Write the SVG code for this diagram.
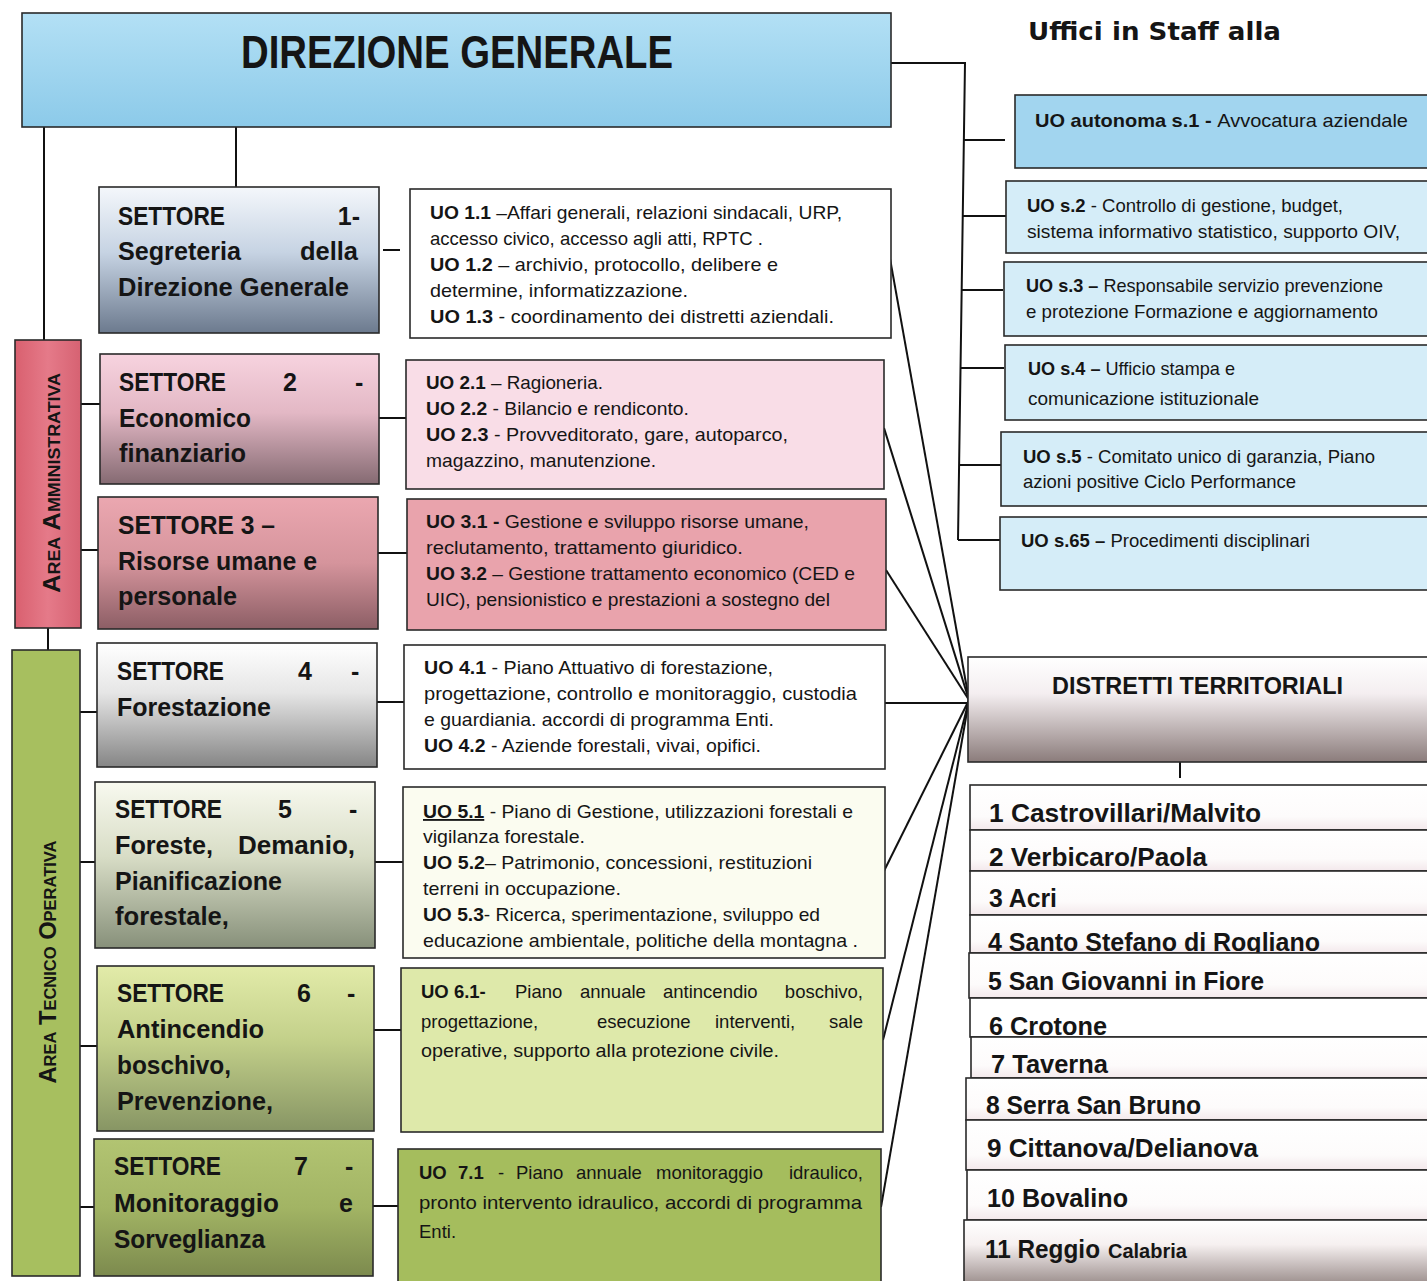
<svg xmlns="http://www.w3.org/2000/svg" width="1427" height="1281" viewBox="0 0 1427 1281">
<defs>
<style>
.bx{stroke:#2a2a2a;stroke-width:1.6}
.ln{stroke:#111;stroke-width:2;fill:none}
text{font-family:'Liberation Sans',Arial,sans-serif;fill:#151515}
.uo{font-size:18.5px}
.se{font-size:25px;font-weight:bold}
.ds{font-size:25px;font-weight:bold}
.b{font-weight:bold}
.area{font-size:23px;font-weight:bold;font-variant:small-caps}
</style>
<linearGradient id="gDG" x1="0" y1="0" x2="0" y2="1"><stop offset="0" stop-color="#b3e0f5"/><stop offset="1" stop-color="#8ccae9"/></linearGradient>
<linearGradient id="gS1" x1="0" y1="0" x2="0" y2="1"><stop offset="0" stop-color="#f4f7fb"/><stop offset="0.45" stop-color="#c6d3e3"/><stop offset="1" stop-color="#6c7a8e"/></linearGradient>
<linearGradient id="gS2" x1="0" y1="0" x2="0" y2="1"><stop offset="0" stop-color="#f7d3df"/><stop offset="0.45" stop-color="#e3b8c5"/><stop offset="1" stop-color="#856a72"/></linearGradient>
<linearGradient id="gS3" x1="0" y1="0" x2="0" y2="1"><stop offset="0" stop-color="#eba7b0"/><stop offset="0.5" stop-color="#d5949c"/><stop offset="1" stop-color="#8c5e65"/></linearGradient>
<linearGradient id="gS4" x1="0" y1="0" x2="0" y2="1"><stop offset="0" stop-color="#ffffff"/><stop offset="0.4" stop-color="#e6e6e6"/><stop offset="1" stop-color="#858585"/></linearGradient>
<linearGradient id="gS5" x1="0" y1="0" x2="0" y2="1"><stop offset="0" stop-color="#f8f9ef"/><stop offset="0.45" stop-color="#d8ddc6"/><stop offset="1" stop-color="#87907a"/></linearGradient>
<linearGradient id="gS6" x1="0" y1="0" x2="0" y2="1"><stop offset="0" stop-color="#e2eba9"/><stop offset="0.45" stop-color="#c3d08a"/><stop offset="1" stop-color="#879564"/></linearGradient>
<linearGradient id="gS7" x1="0" y1="0" x2="0" y2="1"><stop offset="0" stop-color="#b2c472"/><stop offset="0.5" stop-color="#a2b464"/><stop offset="1" stop-color="#7c8a4e"/></linearGradient>
<linearGradient id="gDT" x1="0" y1="0" x2="0" y2="1"><stop offset="0" stop-color="#ffffff"/><stop offset="0.35" stop-color="#f4eef0"/><stop offset="1" stop-color="#8b7c7b"/></linearGradient>
<linearGradient id="gRow" x1="0" y1="0" x2="0" y2="1"><stop offset="0" stop-color="#ffffff"/><stop offset="0.7" stop-color="#fdfbfb"/><stop offset="1" stop-color="#f3e8eb"/></linearGradient>
<linearGradient id="gR11" x1="0" y1="0" x2="0" y2="1"><stop offset="0" stop-color="#ffffff"/><stop offset="0.35" stop-color="#f6f0f0"/><stop offset="1" stop-color="#8e807e"/></linearGradient>
<linearGradient id="gAA" x1="0" y1="0" x2="1" y2="0"><stop offset="0" stop-color="#d9606f"/><stop offset="0.5" stop-color="#e57a89"/><stop offset="1" stop-color="#d66272"/></linearGradient>
<clipPath id="c5"><rect x="403" y="787" width="482" height="170"/></clipPath>
</defs>
<rect width="1427" height="1281" fill="#ffffff"/>

<g id="connectors">
<path class="ln" d="M44 127V340"/>
<path class="ln" d="M236 127V187"/>
<path class="ln" d="M891 63H965L958 540"/>
<path class="ln" d="M964 140H1005"/>
<path class="ln" d="M963 216H1006"/>
<path class="ln" d="M962 290H1003"/>
<path class="ln" d="M961 368H1004"/>
<path class="ln" d="M959 465H1001"/>
<path class="ln" d="M958 540H1000"/>
<path class="ln" d="M48 628V650"/>
<path class="ln" d="M81 404H100"/>
<path class="ln" d="M80 550H98"/>
<path class="ln" d="M80 712H97"/>
<path class="ln" d="M80 862H95"/>
<path class="ln" d="M78 1046H97"/>
<path class="ln" d="M77 1207H94"/>
<path class="ln" d="M383 250H400"/>
<path class="ln" d="M379 418H406"/>
<path class="ln" d="M378 553H407"/>
<path class="ln" d="M377 702H404"/>
<path class="ln" d="M375 862H403"/>
<path class="ln" d="M374 1030H401"/>
<path class="ln" d="M373 1206H398"/>
<path class="ln" d="M889 253L969 700"/>
<path class="ln" d="M884 428L969 700"/>
<path class="ln" d="M886 570L969 700"/>
<path class="ln" d="M885 703H969"/>
<path class="ln" d="M883 873L969 700"/>
<path class="ln" d="M883 1040L969 700"/>
<path class="ln" d="M881 1207L969 700"/>
<path class="ln" d="M1180 762V778"/>
</g>

<g id="direzione-generale">
<rect class="bx" x="22" y="13" width="869" height="114" fill="url(#gDG)"/>
<text x="241" y="68" font-size="46" font-weight="bold" textLength="432" lengthAdjust="spacingAndGlyphs">DIREZIONE GENERALE</text>
</g>

<g id="staff-title">
<text x="1028" y="40" font-size="25" font-weight="bold" textLength="253" lengthAdjust="spacingAndGlyphs" style="font-family:'DejaVu Sans',sans-serif">Uffici in Staff alla</text>
</g>

<g id="staff-s1">
<rect class="bx" x="1015" y="95" width="420" height="73" fill="#a2d5ef"/>
<text class="uo" x="1035" y="127" textLength="373" lengthAdjust="spacingAndGlyphs"><tspan class="b">UO autonoma s.1 - </tspan> Avvocatura aziendale</text>
</g>
<g id="staff-s2">
<rect class="bx" x="1006" y="181" width="430" height="72" fill="#d5edf8"/>
<text class="uo" x="1027" y="212" textLength="316" lengthAdjust="spacingAndGlyphs"><tspan class="b">UO s.2</tspan> - Controllo di gestione, budget,</text>
<text class="uo" x="1027" y="238" textLength="373" lengthAdjust="spacingAndGlyphs">sistema informativo statistico,  supporto OIV,</text>
</g>
<g id="staff-s3">
<rect class="bx" x="1004" y="262" width="432" height="74" fill="#d5edf8"/>
<text class="uo" x="1026" y="292" textLength="357" lengthAdjust="spacingAndGlyphs"><tspan class="b">UO s.3 –</tspan> Responsabile servizio prevenzione</text>
<text class="uo" x="1026" y="318" textLength="352" lengthAdjust="spacingAndGlyphs">e protezione Formazione e aggiornamento</text>
</g>
<g id="staff-s4">
<rect class="bx" x="1005" y="345" width="431" height="75" fill="#d5edf8"/>
<text class="uo" x="1028" y="375" textLength="207" lengthAdjust="spacingAndGlyphs"><tspan class="b">UO s.4 –</tspan> Ufficio stampa e</text>
<text class="uo" x="1028" y="405" textLength="231" lengthAdjust="spacingAndGlyphs">comunicazione  istituzionale</text>
</g>
<g id="staff-s5">
<rect class="bx" x="1001" y="432" width="435" height="74" fill="#d5edf8"/>
<text class="uo" x="1023" y="463" textLength="352" lengthAdjust="spacingAndGlyphs"><tspan class="b">UO s.5</tspan> -  Comitato unico di garanzia, Piano</text>
<text class="uo" x="1023" y="488" textLength="273" lengthAdjust="spacingAndGlyphs">azioni positive Ciclo Performance</text>
</g>
<g id="staff-s65">
<rect class="bx" x="1000" y="517" width="436" height="73" fill="#d5edf8"/>
<text class="uo" x="1021" y="547" textLength="289" lengthAdjust="spacingAndGlyphs"><tspan class="b">UO s.65 –</tspan> Procedimenti disciplinari</text>
</g>

<g id="area-amministrativa">
<rect class="bx" x="15" y="340" width="66" height="288" fill="url(#gAA)"/>
<text class="area" transform="translate(60,483) rotate(-90)" text-anchor="middle" textLength="220" lengthAdjust="spacingAndGlyphs">Area Amministrativa</text>
</g>
<g id="area-tecnico-operativa">
<rect class="bx" x="12" y="650" width="68" height="626" fill="#a7bf5f"/>
<text class="area" transform="translate(56,962) rotate(-90)" text-anchor="middle" textLength="243" lengthAdjust="spacingAndGlyphs">Area Tecnico Operativa</text>
</g>

<g id="settore-1">
<rect class="bx" x="99" y="187" width="280" height="146" fill="url(#gS1)"/>
<text class="se" x="118" y="225" textLength="107" lengthAdjust="spacingAndGlyphs">SETTORE</text>
<text class="se" x="360" y="225" text-anchor="end">1-</text>
<text class="se" x="118" y="260" textLength="123" lengthAdjust="spacingAndGlyphs">Segreteria</text>
<text class="se" x="358" y="260" text-anchor="end" textLength="58" lengthAdjust="spacingAndGlyphs">della</text>
<text class="se" x="118" y="296" textLength="231" lengthAdjust="spacingAndGlyphs">Direzione Generale</text>
</g>
<g id="settore-2">
<rect class="bx" x="100" y="354" width="279" height="130" fill="url(#gS2)"/>
<text class="se" x="119" y="391" textLength="107" lengthAdjust="spacingAndGlyphs">SETTORE</text>
<text class="se" x="283" y="391">2</text>
<text class="se" x="355" y="391">-</text>
<text class="se" x="119" y="427" textLength="132" lengthAdjust="spacingAndGlyphs">Economico</text>
<text class="se" x="119" y="462" textLength="127" lengthAdjust="spacingAndGlyphs">finanziario</text>
</g>
<g id="settore-3">
<rect class="bx" x="98" y="497" width="280" height="132" fill="url(#gS3)"/>
<text class="se" x="118" y="534" textLength="157" lengthAdjust="spacingAndGlyphs">SETTORE  3 –</text>
<text class="se" x="118" y="570" textLength="199" lengthAdjust="spacingAndGlyphs">Risorse umane e</text>
<text class="se" x="118" y="605" textLength="119" lengthAdjust="spacingAndGlyphs">personale</text>
</g>
<g id="settore-4">
<rect class="bx" x="97" y="643" width="280" height="124" fill="url(#gS4)"/>
<text class="se" x="117" y="680" textLength="107" lengthAdjust="spacingAndGlyphs">SETTORE</text>
<text class="se" x="298" y="680">4</text>
<text class="se" x="351" y="680">-</text>
<text class="se" x="117" y="716" textLength="154" lengthAdjust="spacingAndGlyphs">Forestazione</text>
</g>
<g id="settore-5">
<rect class="bx" x="95" y="782" width="280" height="166" fill="url(#gS5)"/>
<text class="se" x="115" y="818" textLength="107" lengthAdjust="spacingAndGlyphs">SETTORE</text>
<text class="se" x="278" y="818">5</text>
<text class="se" x="349" y="818">-</text>
<text class="se" x="115" y="854" textLength="98" lengthAdjust="spacingAndGlyphs">Foreste,</text>
<text class="se" x="355" y="854" text-anchor="end" textLength="117" lengthAdjust="spacingAndGlyphs">Demanio,</text>
<text class="se" x="115" y="890" textLength="167" lengthAdjust="spacingAndGlyphs">Pianificazione</text>
<text class="se" x="115" y="925" textLength="114" lengthAdjust="spacingAndGlyphs">forestale,</text>
</g>
<g id="settore-6">
<rect class="bx" x="97" y="966" width="277" height="165" fill="url(#gS6)"/>
<text class="se" x="117" y="1002" textLength="107" lengthAdjust="spacingAndGlyphs">SETTORE</text>
<text class="se" x="297" y="1002">6</text>
<text class="se" x="347" y="1002">-</text>
<text class="se" x="117" y="1038" textLength="147" lengthAdjust="spacingAndGlyphs">Antincendio</text>
<text class="se" x="117" y="1074" textLength="114" lengthAdjust="spacingAndGlyphs">boschivo,</text>
<text class="se" x="117" y="1110" textLength="156" lengthAdjust="spacingAndGlyphs">Prevenzione,</text>
</g>
<g id="settore-7">
<rect class="bx" x="94" y="1139" width="279" height="137" fill="url(#gS7)"/>
<text class="se" x="114" y="1175" textLength="107" lengthAdjust="spacingAndGlyphs">SETTORE</text>
<text class="se" x="294" y="1175">7</text>
<text class="se" x="345" y="1175">-</text>
<text class="se" x="114" y="1212" textLength="165" lengthAdjust="spacingAndGlyphs">Monitoraggio</text>
<text class="se" x="353" y="1212" text-anchor="end">e</text>
<text class="se" x="114" y="1248" textLength="151" lengthAdjust="spacingAndGlyphs">Sorveglianza</text>
</g>

<g id="uo-1">
<rect class="bx" x="410" y="189" width="481" height="149" fill="#ffffff"/>
<text class="uo" x="430" y="219" textLength="412" lengthAdjust="spacingAndGlyphs"><tspan class="b">UO 1.1</tspan> –Affari generali, relazioni sindacali, URP,</text>
<text class="uo" x="430" y="245" textLength="333" lengthAdjust="spacingAndGlyphs">accesso civico, accesso agli atti,  RPTC .</text>
<text class="uo" x="430" y="271" textLength="348" lengthAdjust="spacingAndGlyphs"><tspan class="b">UO 1.2</tspan> – archivio, protocollo, delibere  e</text>
<text class="uo" x="430" y="297" textLength="258" lengthAdjust="spacingAndGlyphs">determine, informatizzazione.</text>
<text class="uo" x="430" y="323" textLength="404" lengthAdjust="spacingAndGlyphs"><tspan class="b">UO 1.3</tspan> -  coordinamento dei distretti aziendali.</text>
</g>
<g id="uo-2">
<rect class="bx" x="406" y="360" width="478" height="129" fill="#f9dde7"/>
<text class="uo" x="426" y="389" textLength="177" lengthAdjust="spacingAndGlyphs"><tspan class="b">UO 2.1</tspan> – Ragioneria.</text>
<text class="uo" x="426" y="415" textLength="263" lengthAdjust="spacingAndGlyphs"><tspan class="b">UO 2.2</tspan> - Bilancio e rendiconto.</text>
<text class="uo" x="426" y="441" textLength="362" lengthAdjust="spacingAndGlyphs"><tspan class="b">UO 2.3</tspan> - Provveditorato, gare,  autoparco,</text>
<text class="uo" x="426" y="467" textLength="230" lengthAdjust="spacingAndGlyphs">magazzino, manutenzione.</text>
</g>
<g id="uo-3">
<rect class="bx" x="407" y="499" width="479" height="131" fill="#e9a3ac"/>
<text class="uo" x="426" y="528" textLength="383" lengthAdjust="spacingAndGlyphs"><tspan class="b">UO 3.1 - </tspan> Gestione e sviluppo risorse umane,</text>
<text class="uo" x="426" y="554" textLength="317" lengthAdjust="spacingAndGlyphs">reclutamento, trattamento giuridico.</text>
<text class="uo" x="426" y="580" textLength="429" lengthAdjust="spacingAndGlyphs"><tspan class="b">UO 3.2</tspan> – Gestione trattamento economico (CED e</text>
<text class="uo" x="426" y="606" textLength="404" lengthAdjust="spacingAndGlyphs">UIC), pensionistico e prestazioni a sostegno del</text>
</g>
<g id="uo-4">
<rect class="bx" x="404" y="645" width="481" height="124" fill="#ffffff"/>
<text class="uo" x="424" y="674" textLength="349" lengthAdjust="spacingAndGlyphs"><tspan class="b">UO 4.1</tspan> - Piano Attuativo di forestazione,</text>
<text class="uo" x="424" y="700" textLength="433" lengthAdjust="spacingAndGlyphs">progettazione, controllo e  monitoraggio, custodia</text>
<text class="uo" x="424" y="726" textLength="350" lengthAdjust="spacingAndGlyphs">e guardiania. accordi di programma Enti.</text>
<text class="uo" x="424" y="752" textLength="337" lengthAdjust="spacingAndGlyphs"><tspan class="b">UO 4.2</tspan> - Aziende forestali, vivai, opifici.</text>
</g>
<g id="uo-5">
<rect class="bx" x="403" y="787" width="482" height="171" fill="#fbfcf0"/>
<g clip-path="url(#c5)">
<text class="uo" x="423" y="818" textLength="430" lengthAdjust="spacingAndGlyphs"><tspan class="b" text-decoration="underline">UO 5.1</tspan> - Piano di Gestione, utilizzazioni forestali e</text>
<text class="uo" x="423" y="843" textLength="162" lengthAdjust="spacingAndGlyphs">vigilanza forestale.</text>
<text class="uo" x="423" y="869" textLength="389" lengthAdjust="spacingAndGlyphs"><tspan class="b">UO 5.2</tspan>– Patrimonio, concessioni, restituzioni</text>
<text class="uo" x="423" y="895" textLength="198" lengthAdjust="spacingAndGlyphs">terreni in occupazione.</text>
<text class="uo" x="423" y="921" textLength="397" lengthAdjust="spacingAndGlyphs"><tspan class="b">UO 5.3</tspan>- Ricerca, sperimentazione, sviluppo ed</text>
<text class="uo" x="423" y="947" textLength="435" lengthAdjust="spacingAndGlyphs">educazione ambientale, politiche della montagna .</text>
</g>
</g>
<g id="uo-6">
<rect class="bx" x="401" y="968" width="482" height="164" fill="#dee9aa"/>
<text class="uo b" x="421" y="998">UO 6.1-</text>
<text class="uo" x="515" y="998">Piano</text>
<text class="uo" x="580" y="998">annuale</text>
<text class="uo" x="663" y="998">antincendio</text>
<text class="uo" x="863" y="998" text-anchor="end">boschivo,</text>
<text class="uo" x="421" y="1028">progettazione,</text>
<text class="uo" x="597" y="1028">esecuzione</text>
<text class="uo" x="715" y="1028">interventi,</text>
<text class="uo" x="863" y="1028" text-anchor="end">sale</text>
<text class="uo" x="421" y="1057" textLength="358" lengthAdjust="spacingAndGlyphs">operative, supporto alla protezione civile.</text>
</g>
<g id="uo-7">
<rect class="bx" x="398" y="1149" width="483" height="140" fill="#a5bd5d"/>
<text class="uo b" x="419" y="1179">UO</text>
<text class="uo b" x="458" y="1179">7.1</text>
<text class="uo" x="498" y="1179">-</text>
<text class="uo" x="516" y="1179">Piano</text>
<text class="uo" x="576" y="1179">annuale</text>
<text class="uo" x="656" y="1179">monitoraggio</text>
<text class="uo" x="863" y="1179" text-anchor="end">idraulico,</text>
<text class="uo" x="419" y="1209" textLength="443" lengthAdjust="spacingAndGlyphs">pronto intervento idraulico, accordi di programma</text>
<text class="uo" x="419" y="1238">Enti.</text>
</g>

<g id="distretti-territoriali">
<rect class="bx" x="968" y="657" width="470" height="105" fill="url(#gDT)"/>
<text x="1052" y="694" font-size="24" font-weight="bold" textLength="291" lengthAdjust="spacingAndGlyphs">DISTRETTI TERRITORIALI</text>
</g>

<g id="distretto-1"><rect class="bx" x="970" y="785" width="470" height="45" fill="url(#gRow)"/><text class="ds" x="989" y="822" textLength="272" lengthAdjust="spacingAndGlyphs">1 Castrovillari/Malvito</text></g>
<g id="distretto-2"><rect class="bx" x="970" y="830" width="470" height="41" fill="url(#gRow)"/><text class="ds" x="989" y="866" textLength="218" lengthAdjust="spacingAndGlyphs">2 Verbicaro/Paola</text></g>
<g id="distretto-3"><rect class="bx" x="970" y="871" width="470" height="44" fill="url(#gRow)"/><text class="ds" x="989" y="907" textLength="68" lengthAdjust="spacingAndGlyphs">3 Acri</text></g>
<g id="distretto-4"><rect class="bx" x="970" y="915" width="470" height="38" fill="url(#gRow)"/><text class="ds" x="988" y="951" textLength="332" lengthAdjust="spacingAndGlyphs">4 Santo Stefano di Rogliano</text></g>
<g id="distretto-5"><rect class="bx" x="969" y="953" width="470" height="45" fill="url(#gRow)"/><text class="ds" x="988" y="990" textLength="276" lengthAdjust="spacingAndGlyphs">5 San Giovanni in Fiore</text></g>
<g id="distretto-6"><rect class="bx" x="970" y="998" width="470" height="39" fill="#ffffff"/><text class="ds" x="989" y="1035" textLength="118" lengthAdjust="spacingAndGlyphs">6 Crotone</text></g>
<g id="distretto-7"><rect class="bx" x="971" y="1037" width="470" height="41" fill="url(#gRow)"/><text class="ds" x="991" y="1073" textLength="117" lengthAdjust="spacingAndGlyphs">7 Taverna</text></g>
<g id="distretto-8"><rect class="bx" x="966" y="1078" width="474" height="42" fill="url(#gRow)"/><text class="ds" x="986" y="1114" textLength="215" lengthAdjust="spacingAndGlyphs">8 Serra San Bruno</text></g>
<g id="distretto-9"><rect class="bx" x="966" y="1120" width="474" height="50" fill="url(#gRow)"/><text class="ds" x="987" y="1157" textLength="271" lengthAdjust="spacingAndGlyphs">9 Cittanova/Delianova</text></g>
<g id="distretto-10"><rect class="bx" x="967" y="1170" width="473" height="50" fill="url(#gRow)"/><text class="ds" x="987" y="1207" textLength="141" lengthAdjust="spacingAndGlyphs">10 Bovalino</text></g>
<g id="distretto-11"><rect class="bx" x="964" y="1220" width="476" height="70" fill="url(#gR11)"/><text class="ds" x="985" y="1258"><tspan textLength="115" lengthAdjust="spacingAndGlyphs">11 Reggio</tspan><tspan x="1108" font-size="20">Calabria</tspan></text></g>
</svg>
